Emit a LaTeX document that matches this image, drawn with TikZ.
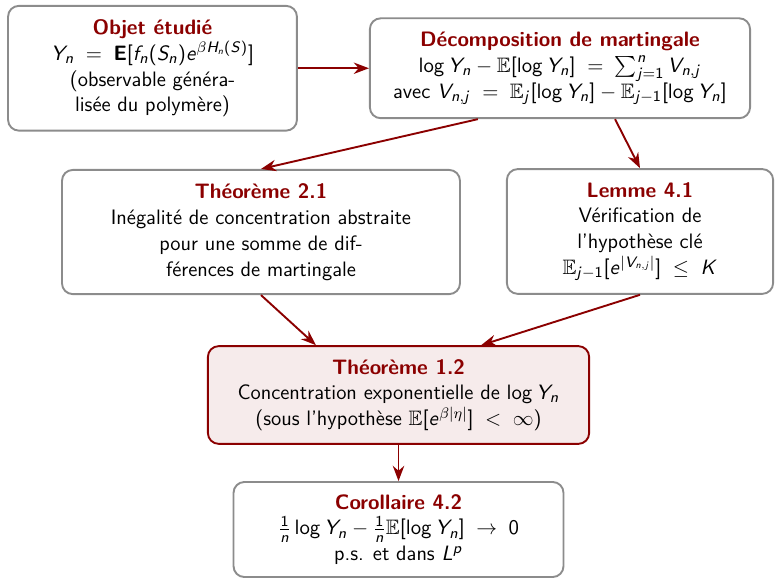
\documentclass[tikz,border=0pt]{standalone}
\usepackage{xcolor}
\usepackage{amsmath, amssymb}
\usepackage{tikz}
\usetikzlibrary{arrows.meta}
\renewcommand{\familydefault}{\sfdefault}

% maths en sans serif
\DeclareSymbolFont{sfletters}{OT1}{cmss}{m}{sl}
\SetSymbolFont{operators}{normal}{OT1}{cmss}{m}{n}
\SetMathAlphabet{\mathbf}{normal}{OT1}{cmss}{bx}{n}
\newcount\lettrecode
\lettrecode=`A
\loop
	\mathcode\lettrecode=\numexpr"7000+\symsfletters*"100+\lettrecode\relax
	\ifnum\lettrecode<`Z \advance\lettrecode by 1 \repeat
\lettrecode=`a
\loop
	\mathcode\lettrecode=\numexpr"7000+\symsfletters*"100+\lettrecode\relax
	\ifnum\lettrecode<`z \advance\lettrecode by 1 \repeat

\definecolor{titlered}{RGB}{139,0,0}
\newcommand{\titre}[1]{{\color{titlered}\bfseries #1}}

\tikzset{
	boite/.style={draw=gray!90, line width=1pt, rounded corners=0.2cm, fill=white,
		align=center, inner sep=2pt, font=\fontsize{11}{13.6}\selectfont},
	cle/.style={boite, draw=titlered, fill=titlered!8},
	fleche/.style={-{Stealth[length=8pt, width=6pt]}, draw=titlered, line width=1pt}
}

\begin{document}
\begin{tikzpicture}
	\useasboundingbox (0,0) rectangle (14.352,10.704);

	\node[boite, minimum width=5.35cm, minimum height=2.31cm] (objet) at (2.824,9.44) {
		\titre{Objet étudié}\\
		$Y_n \;=\; \mathbf{E}[f_n(S_n)e^{\beta H_n(S)}]$\\
		(observable généra-\\
		lisée du polymère)};
	\node[boite, minimum width=7.04cm, minimum height=1.85cm] (decomp) at (10.37,9.44) {
		\titre{Décomposition de martingale}\\
		$\log Y_n - \mathbb{E}[\log Y_n] \;=\; \sum_{j=1}^n V_{n,j}$\\
		avec $V_{n,j} \;=\; \mathbb{E}_j[\log Y_n] - \mathbb{E}_{j-1}[\log Y_n]$};
	\node[boite, minimum width=7.37cm, minimum height=2.3cm] (thm21) at (4.833,6.407) {
		\titre{Théorème 2.1}\\
		Inégalité de concentration abstraite\\
		pour une somme de dif-\\
		férences de martingale};
	\node[boite, minimum width=4.93cm, minimum height=2.31cm] (lem41) at (11.852,6.417) {
		\titre{Lemme 4.1}\\
		Vérification de\\
		l'hypothèse clé\\
		$\mathbb{E}_{j-1}[e^{|V_{n,j}|}] \;\le\; K$};
	\node[cle, minimum width=7.06cm, minimum height=1.81cm] (thm12) at (7.38,3.389) {
		\titre{Théorème 1.2}\\
		Concentration exponentielle de $\log Y_n$\\
		(sous l'hypothèse $\mathbb{E}[e^{\beta|\eta|}] \;<\; \infty$)};
	\node[boite, minimum width=6.11cm, minimum height=1.76cm] (coro) at (7.38,0.898) {
		\titre{Corollaire 4.2}\\
		$\frac{1}{n}\log Y_n - \frac{1}{n}\mathbb{E}[\log Y_n] \;\to\; 0$\\
		p.s. et dans $L^p$};

	% liens
	\draw[fleche] (objet.east) -- (decomp.west);
	\draw[fleche] ([xshift=-1.52cm]decomp.south) -- (thm21.north);
	\draw[fleche] ([xshift=1.02cm]decomp.south) -- (lem41.north);
	\draw[fleche] (thm21.south) -- ([xshift=-1.53cm]thm12.north);
	\draw[fleche] (lem41.south) -- ([xshift=1.53cm]thm12.north);
	\draw[fleche] (thm12.south) -- (coro.north);
\end{tikzpicture}
\end{document}
